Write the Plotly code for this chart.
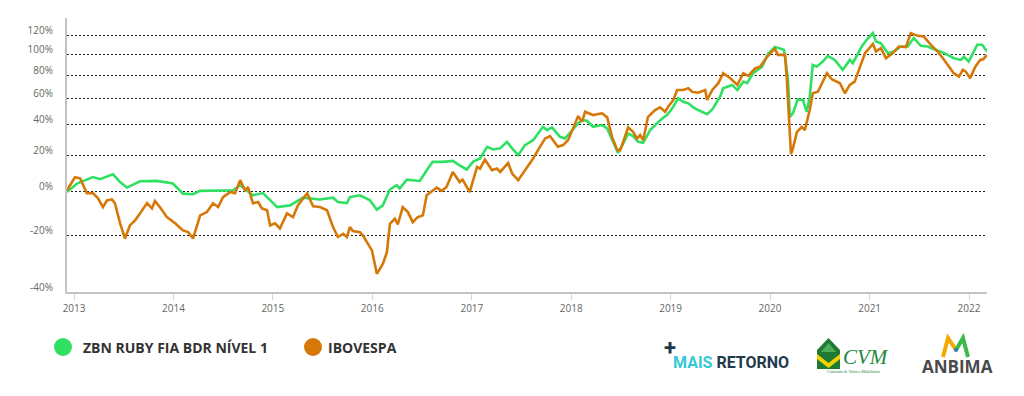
import math
import plotly.graph_objects as go

# ---------------- data (cumulative return, %) ----------------
zbn_dates = [
    "2012-12-06", "2013-01-12", "2013-03-11", "2013-04-06", "2013-05-24", "2013-06-19", "2013-07-14",
    "2013-08-31", "2013-11-01", "2013-12-30", "2014-02-05", "2014-03-14", "2014-04-09", "2014-08-08",
    "2014-09-03", "2014-10-20", "2014-11-26", "2014-12-29", "2015-01-17", "2015-03-05", "2015-04-22",
    "2015-06-23", "2015-08-10", "2015-08-28", "2015-09-30", "2015-10-11", "2015-11-17", "2015-12-24",
    "2016-01-18", "2016-02-09", "2016-03-06", "2016-03-31", "2016-04-11", "2016-05-07", "2016-06-24",
    "2016-07-19", "2016-08-10", "2016-09-16", "2016-10-23", "2016-11-17", "2016-12-13", "2017-01-05",
    "2017-01-31", "2017-02-26", "2017-03-20", "2017-04-15", "2017-05-10", "2017-05-29", "2017-06-20",
    "2017-07-15", "2017-08-14", "2017-09-19", "2017-10-04", "2017-10-22", "2017-11-21", "2017-12-09",
    "2018-01-04", "2018-01-26", "2018-02-10", "2018-02-28", "2018-03-22", "2018-04-24", "2018-05-13",
    "2018-06-04", "2018-06-22", "2018-07-11", "2018-07-29", "2018-08-16", "2018-09-04", "2018-09-22",
    "2018-10-18", "2018-11-12", "2018-12-01", "2018-12-19", "2019-01-07", "2019-01-29", "2019-02-16",
    "2019-03-07", "2019-03-25", "2019-04-12", "2019-05-15", "2019-06-03", "2019-07-02", "2019-07-13",
    "2019-08-15", "2019-09-03", "2019-09-25", "2019-10-09", "2019-10-31", "2019-12-03", "2019-12-25",
    "2020-01-19", "2020-02-21", "2020-02-28", "2020-03-07", "2020-03-14", "2020-03-25", "2020-04-12",
    "2020-05-01", "2020-05-15", "2020-05-26", "2020-06-06", "2020-06-21", "2020-07-13", "2020-07-31",
    "2020-08-26", "2020-09-24", "2020-10-20", "2020-10-31", "2020-12-03", "2020-12-21", "2021-01-13",
    "2021-01-24", "2021-02-11", "2021-03-09", "2021-03-31", "2021-04-26", "2021-05-21", "2021-06-12",
    "2021-07-08", "2021-08-03", "2021-08-25", "2021-09-19", "2021-10-15", "2021-11-06", "2021-12-02",
    "2021-12-13", "2021-12-31", "2022-01-17", "2022-01-31", "2022-02-18", "2022-03-08",
]
zbn_values = [
    -0.4, 4.0, 7.5, 6.3, 9.0, 4.8, 1.9,
    5.2, 5.4, 4.0, -1.2, -1.5, 0.2, 0.5,
    3.1, -2.0, -0.9, -5.3, -7.7, -6.9, -3.2,
    -4.1, -3.2, -5.3, -5.8, -2.9, -2.0, -4.5,
    -8.9, -6.9, 0.9, 3.1, 1.4, 6.1, 5.4,
    11.3, 16.1, 16.1, 16.7, 14.1, 11.7, 16.1,
    18.1, 25.3, 23.6, 24.3, 28.5, 24.3, 20.1,
    26.4, 29.6, 38.7, 36.4, 38.3, 31.8, 30.7,
    36.4, 41.1, 43.5, 43.0, 38.7, 39.9, 37.6,
    28.5, 21.5, 27.5, 34.1, 32.3, 28.5, 27.9,
    36.4, 41.1, 44.7, 47.2, 52.3, 60.3, 57.5,
    56.2, 53.1, 51.0, 47.9, 51.5, 61.6, 68.6,
    71.5, 67.2, 74.4, 73.0, 82.0, 88.2, 100.8,
    108.0, 104.9, 92.8, 75.9, 45.9, 48.5, 59.4,
    58.9, 49.7, 61.6, 89.8, 88.2, 93.1, 98.7,
    94.7, 85.1, 94.7, 91.5, 108.4, 115.6, 123.1,
    113.7, 112.0, 101.5, 103.1, 108.4, 108.4, 117.5,
    109.1, 108.4, 105.6, 103.1, 99.7, 96.4, 94.7,
    98.0, 93.1, 103.1, 110.2, 110.2, 103.1,
]

ibov_dates = [
    "2012-12-06", "2012-12-25", "2013-01-04", "2013-01-23", "2013-02-17", "2013-03-11", "2013-03-30",
    "2013-04-17", "2013-05-02", "2013-05-20", "2013-05-31", "2013-06-19", "2013-07-07", "2013-07-25",
    "2013-08-13", "2013-08-31", "2013-09-26", "2013-10-14", "2013-10-25", "2013-11-12", "2013-12-08",
    "2014-01-07", "2014-02-05", "2014-02-24", "2014-03-14", "2014-04-09", "2014-05-04", "2014-05-26",
    "2014-06-14", "2014-07-02", "2014-07-28", "2014-08-15", "2014-09-03", "2014-09-21", "2014-10-02",
    "2014-10-20", "2014-11-08", "2014-11-22", "2014-12-11", "2014-12-22", "2015-01-09", "2015-01-27",
    "2015-02-22", "2015-03-16", "2015-04-03", "2015-05-07", "2015-05-29", "2015-06-23", "2015-07-19",
    "2015-08-10", "2015-08-28", "2015-09-16", "2015-09-30", "2015-10-11", "2015-10-22", "2015-11-17",
    "2015-11-28", "2015-12-31", "2016-01-18", "2016-02-09", "2016-02-24", "2016-03-06", "2016-03-24",
    "2016-04-04", "2016-04-22", "2016-05-11", "2016-05-29", "2016-06-16", "2016-07-05", "2016-07-19",
    "2016-08-10", "2016-08-25", "2016-09-12", "2016-09-30", "2016-10-23", "2016-11-17", "2016-11-28",
    "2016-12-24", "2017-01-20", "2017-01-31", "2017-02-18", "2017-03-16", "2017-04-03", "2017-04-15",
    "2017-05-14", "2017-05-29", "2017-06-20", "2017-07-15", "2017-08-14", "2017-09-08", "2017-09-27",
    "2017-10-15", "2017-11-02", "2017-11-13", "2017-12-02", "2017-12-20", "2018-01-08", "2018-01-26",
    "2018-02-10", "2018-02-21", "2018-03-22", "2018-04-24", "2018-05-13", "2018-05-31", "2018-06-19",
    "2018-06-30", "2018-07-29", "2018-08-16", "2018-08-31", "2018-09-11", "2018-09-22", "2018-10-10",
    "2018-11-05", "2018-11-23", "2018-12-12", "2018-12-23", "2019-01-11", "2019-01-25", "2019-02-16",
    "2019-03-07", "2019-03-21", "2019-04-12", "2019-05-08", "2019-05-15", "2019-06-03", "2019-06-25",
    "2019-07-13", "2019-08-08", "2019-09-03", "2019-09-25", "2019-10-13", "2019-11-08", "2019-11-26",
    "2019-12-22", "2020-01-08", "2020-01-19", "2020-01-30", "2020-02-25", "2020-03-03", "2020-03-10",
    "2020-03-18", "2020-03-25", "2020-04-09", "2020-04-27", "2020-05-08", "2020-05-26", "2020-06-06",
    "2020-06-25", "2020-07-28", "2020-08-15", "2020-09-14", "2020-10-02", "2020-10-20", "2020-11-07",
    "2020-11-26", "2020-12-15", "2021-01-13", "2021-01-24", "2021-02-11", "2021-03-02", "2021-03-27",
    "2021-04-18", "2021-05-14", "2021-06-01", "2021-06-27", "2021-07-19", "2021-08-14", "2021-09-08",
    "2021-09-27", "2021-10-19", "2021-11-06", "2021-11-25", "2021-12-09", "2021-12-20", "2022-01-05",
    "2022-01-24", "2022-02-11", "2022-02-22", "2022-03-08",
]
ibov_values = [
    0.5, 4.7, 7.4, 6.8, -1.0, -0.9, -3.5,
    -7.7, -4.5, -4.0, -5.9, -15.0, -21.3, -15.9,
    -13.7, -10.6, -5.8, -8.3, -4.8, -7.7, -12.3,
    -15.0, -18.0, -18.7, -21.3, -11.5, -10.0, -5.9,
    -7.7, -2.9, -0.4, -1.0, 5.8, 0.5, 2.2,
    -5.9, -5.3, -8.3, -9.2, -15.9, -15.0, -17.2,
    -10.6, -12.3, -6.9, -1.0, -7.3, -7.7, -9.2,
    -16.6, -20.7, -19.4, -20.7, -16.6, -18.3, -18.7,
    -20.1, -25.9, -34.2, -30.8, -26.6, -15.2, -13.0,
    -15.5, -7.7, -10.0, -14.5, -12.3, -11.5, -2.0,
    0.5, 1.9, 0.2, 2.2, 10.3, 4.8, 6.1,
    -0.4, 13.2, 12.2, 17.5, 11.3, 12.2, 10.3,
    15.5, 9.4, 5.8, 11.3, 18.1, 25.3, 30.7,
    32.3, 27.5, 25.3, 26.4, 29.6, 37.6, 46.4,
    42.3, 49.7, 47.2, 48.5, 45.5, 31.8, 23.2,
    23.2, 38.3, 35.2, 30.7, 33.0, 29.6, 45.9,
    51.0, 53.1, 49.7, 53.5, 58.9, 67.2, 67.2,
    68.6, 65.7, 64.9, 67.2, 58.9, 67.2, 73.0,
    82.0, 77.4, 71.5, 82.0, 79.5, 86.7, 88.2,
    98.0, 103.1, 105.9, 99.7, 99.7, 75.9, 45.7,
    20.7, 24.3, 35.2, 38.7, 36.4, 51.0, 64.4,
    65.7, 82.0, 76.5, 73.0, 64.4, 71.5, 74.4,
    88.2, 101.5, 111.2, 103.1, 106.7, 96.4, 101.5,
    108.4, 107.7, 123.1, 120.0, 119.2, 110.2, 103.1,
    96.4, 88.2, 82.0, 78.9, 85.1, 83.5, 77.4,
    88.2, 94.7, 95.4, 99.7,
]

series_names = ["ZBN RUBY FIA BDR NÍVEL 1", "IBOVESPA"]
series_colors = ["#2fe063", "#d67808"]

y_tick_pcts = [-40, -20, 0, 20, 40, 60, 80, 100, 120, 140]
y_tick_labels = ["-40%", "-20%", "0%", "20%", "40%", "60%", "80%", "100%", "120%", ""]
x_tick_years = [2013, 2014, 2015, 2016, 2017, 2018, 2019, 2020, 2021, 2022]

# ---------------- figure ----------------
W, H = 1024, 396
L, R, T, B = 67, 37, 18, 104
PW, PH = W - L - R, H - T - B


def px(x):
    return (x - L) / PW


def py(y):
    return (H - B - y) / PH


fig = go.Figure()
for name, dates, vals, col in [
    (series_names[0], zbn_dates, zbn_values, series_colors[0]),
    (series_names[1], ibov_dates, ibov_values, series_colors[1]),
]:
    fig.add_trace(go.Scatter(
        x=dates, y=[1 + v / 100 for v in vals], mode="lines", name=name,
        line=dict(color=col, width=2.6), showlegend=False,
    ))

fig.update_layout(
    width=W, height=H,
    margin=dict(l=L, r=R, t=T, b=B, pad=0),
    paper_bgcolor="white", plot_bgcolor="white",
    font=dict(family="Open Sans, sans-serif", color="#666666", size=10),
    showlegend=False,
)

fig.update_xaxes(
    type="date",
    range=["2012-12-06", "2022-03-08"],
    tickvals=[f"{y}-01-01" for y in x_tick_years],
    ticktext=[str(y) for y in x_tick_years],
    ticks="outside", ticklen=6, tickwidth=1, tickcolor="#ccd6eb",
    showgrid=False, zeroline=False,
    showline=True, linecolor="#c4c4c4", linewidth=2,
    tickfont=dict(size=10, color="#666666"),
)
fig.update_yaxes(
    type="log",
    range=[math.log10(0.6), math.log10(2.4) + 0.0015],
    tickvals=[1 + p / 100 for p in y_tick_pcts],
    ticktext=y_tick_labels,
    ticks="", ticklabelstandoff=10, ticklabelshift=-5,
    showgrid=True, gridcolor="#222222", gridwidth=1, griddash="2px,2px",
    zeroline=False,
    showline=True, linecolor="#c4c4c4", linewidth=2,
    tickfont=dict(size=10, color="#666666"),
)

# ---------------- custom legend ----------------
shapes = []
annos = []
legend_items = [(63, 81), (313, 326)]
for (cx, tx), name, col in zip(legend_items, series_names, series_colors):
    r = 9
    shapes.append(dict(type="circle", xref="paper", yref="paper",
                       x0=px(cx - r), x1=px(cx + r), y0=py(347 + r), y1=py(347 - r),
                       fillcolor=col, line=dict(width=0)))
    annos.append(dict(xref="paper", yref="paper", x=px(tx), y=py(347), xanchor="left", yanchor="middle",
                      text=f"<b>{name}</b>", showarrow=False,
                      font=dict(family="Open Sans, sans-serif", size=14, color="#333333")))

# ---------------- logos ----------------
# + MAIS RETORNO
annos.append(dict(xref="paper", yref="paper", x=px(662), y=py(347), xanchor="left", yanchor="middle",
                  text="<b>+</b>", showarrow=False,
                  font=dict(family="Roboto, Arial", size=22, color="#1f3a4d")))
annos.append(dict(xref="paper", yref="paper", x=px(671), y=py(362), xanchor="left", yanchor="middle",
                  text="<b><span style='color:#35c9d6'>MAIS</span> RETORNO</b>", showarrow=False,
                  font=dict(family="Roboto, Arial", size=16, color="#1f3a4d")))


def path(points, close=True):
    s = "M " + " L ".join(f"{px(x):.5f},{py(y):.5f}" for x, y in points)
    return s + (" Z" if close else "")


# CVM emblem
shapes.append(dict(type="path", xref="paper", yref="paper",
                   path=path([(817, 350), (828.5, 338), (840, 350), (840, 369), (817, 369)]),
                   fillcolor="#1f7a34", line=dict(width=0)))
shapes.append(dict(type="path", xref="paper", yref="paper",
                   path=path([(821, 352), (828.5, 343), (836, 352)]),
                   fillcolor="#4fae5a", line=dict(width=0)))
shapes.append(dict(type="path", xref="paper", yref="paper",
                   path=path([(817, 354), (828.5, 363), (840, 354), (840, 359), (828.5, 368), (817, 359)]),
                   fillcolor="#f2d200", line=dict(width=0)))
annos.append(dict(xref="paper", yref="paper", x=px(841), y=py(357), xanchor="left", yanchor="middle",
                  text="<i>CVM</i>", showarrow=False,
                  font=dict(family="Liberation Serif, serif", size=21, color="#23873c")))
annos.append(dict(xref="paper", yref="paper", x=px(854), y=py(371.5), xanchor="center", yanchor="middle",
                  text="Comissão de Valores Mobiliários", showarrow=False,
                  font=dict(family="Liberation Serif, serif", size=4, color="#23873c")))

# ANBIMA
shapes.append(dict(type="path", xref="paper", yref="paper",
                   path=path([(943, 357), (948, 338), (956, 350)], close=False),
                   line=dict(color="#f5a800", width=4)))
shapes.append(dict(type="path", xref="paper", yref="paper",
                   path=path([(956, 350), (963, 338), (968, 357)], close=False),
                   line=dict(color="#3cb84a", width=4)))
shapes.append(dict(type="circle", xref="paper", yref="paper",
                   x0=px(954), x1=px(958), y0=py(352), y1=py(348),
                   fillcolor="#2a7fc1", line=dict(width=0)))
annos.append(dict(xref="paper", yref="paper", x=px(957.5), y=py(366), xanchor="center", yanchor="middle",
                  text="<b>ANBIMA</b>", showarrow=False,
                  font=dict(family="Open Sans, sans-serif", size=17, color="#4a4a4a")))

fig.update_layout(shapes=shapes, annotations=annos)

fig.write_html("out.html", config={"displayModeBar": False},
               post_script="document.body.style.margin='0';")
